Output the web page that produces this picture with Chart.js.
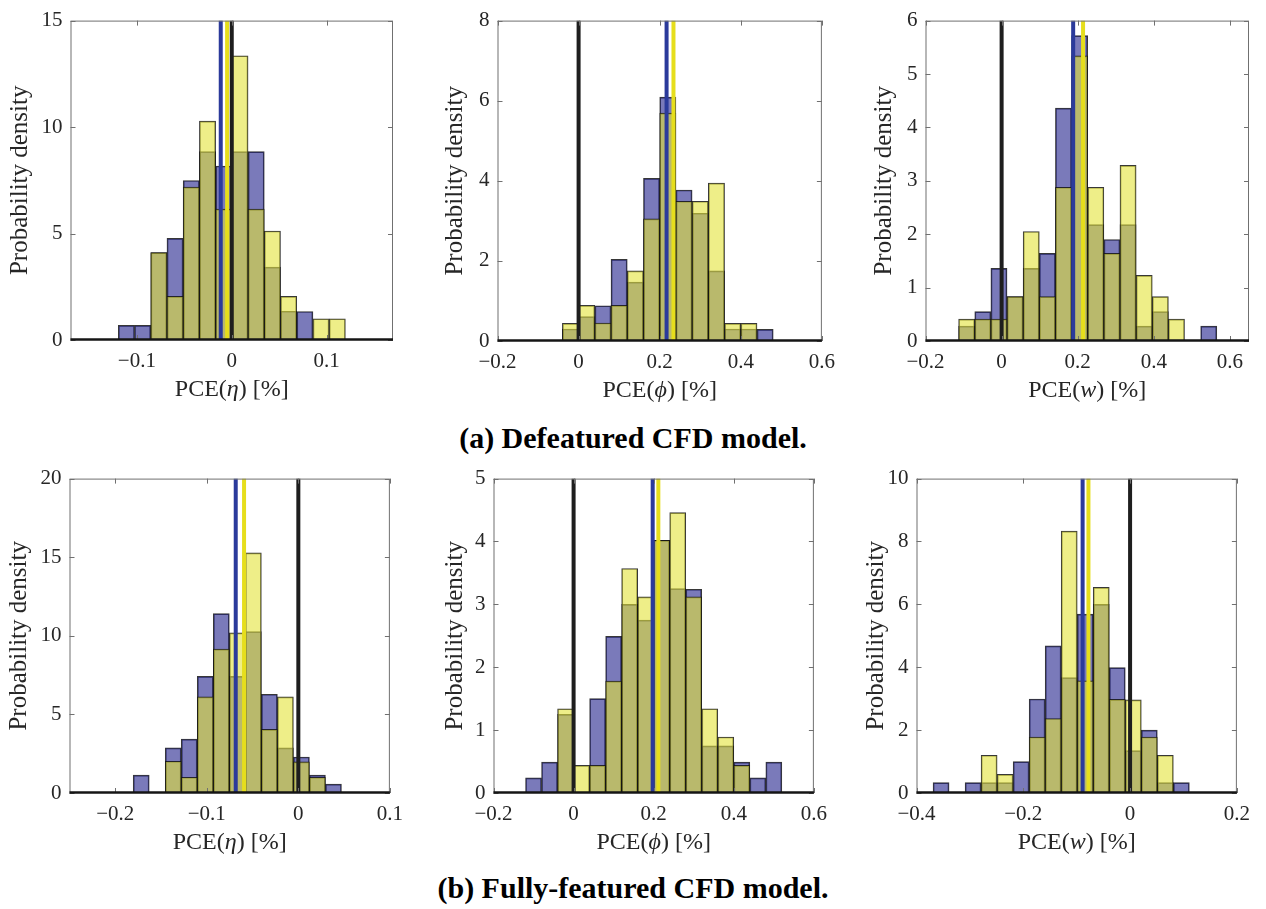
<!DOCTYPE html>
<html>
<head>
<meta charset="utf-8">
<script src="https://cdn.jsdelivr.net/npm/chart.js@4.4.1/dist/chart.umd.min.js"></script>
<style>
body { margin:0; background:#fff; width:1266px; height:909px; overflow:hidden; position:relative; }
canvas { position:absolute; }
.caption { position:absolute; left:0; width:1266px; height:34px; line-height:34px; text-align:center;
  font-family:"Liberation Serif", serif; font-weight:bold; font-size:30px; color:#000; }
</style>
</head>
<body>
<canvas id="eta_a"></canvas>
<canvas id="phi_a"></canvas>
<canvas id="w_a"></canvas>
<canvas id="eta_b"></canvas>
<canvas id="phi_b"></canvas>
<canvas id="w_b"></canvas>
<div class="caption" style="top:421px">(a) Defeatured CFD model.</div>
<div class="caption" style="top:871px">(b) Fully-featured CFD model.</div>
<script>
'use strict';

// ---- (a) defeatured, PCE(eta) ----
var eta_a_bins   = [-0.11105, -0.09395, -0.07685, -0.05975, -0.04265, -0.02555, -0.00845, 0.00865, 0.02575, 0.04285, 0.05995, 0.07705, 0.09415, 0.11125];
var eta_a_blue   = [0.69, 0.69, 4.1, 4.77, 7.49, 8.85, 8.17, 8.85, 8.85, 3.42, 1.35, 1.34, 0, 0];
var eta_a_yellow = [0, 0, 4.1, 2.05, 7.18, 10.28, 6.15, 13.35, 6.15, 5.12, 2.05, 0, 1.0, 1.0];
var eta_a_lines  = [-0.0116, -0.0049, 0];   // blue, yellow, black
var eta_a_xlim   = [-0.17, 0.17];
var eta_a_xticks = [-0.1, 0, 0.1];
var eta_a_yticks = [0, 5, 10, 15];

// ---- (a) defeatured, PCE(phi) ----
var phi_a_bins   = [-0.02, 0.02, 0.06, 0.10, 0.14, 0.18, 0.22, 0.26, 0.30, 0.34, 0.38, 0.42, 0.46];
var phi_a_blue   = [0.30, 0.61, 0.88, 2.04, 1.47, 4.06, 6.09, 3.77, 3.19, 1.75, 0.30, 0.30, 0.29];
var phi_a_yellow = [0.44, 0.89, 0.45, 0.89, 1.75, 3.05, 5.69, 3.49, 3.49, 3.94, 0.44, 0.44, 0];
var phi_a_lines  = [0.217, 0.234, 0];
var phi_a_xlim   = [-0.2, 0.6];
var phi_a_xticks = [-0.2, 0, 0.2, 0.4, 0.6];
var phi_a_yticks = [0, 2, 4, 6, 8];

// ---- (a) defeatured, PCE(w) ----
var w_a_bins   = [-0.0918, -0.0494, -0.0070, 0.0354, 0.0778, 0.1202, 0.1626, 0.2050, 0.2474, 0.2898, 0.3322, 0.3746, 0.4170, 0.4594, 0.5018, 0.5442];
var w_a_blue   = [0.28, 0.55, 1.36, 0.83, 1.36, 1.64, 4.36, 5.72, 2.18, 1.90, 2.18, 0.28, 0.55, 0, 0, 0.28];
var w_a_yellow = [0.41, 0.41, 0.41, 0.83, 2.05, 0.83, 2.88, 5.34, 2.88, 1.64, 3.29, 1.23, 0.83, 0.41, 0, 0];
var w_a_lines  = [0.188, 0.214, 0];
var w_a_xlim   = [-0.2, 0.65];
var w_a_xticks = [-0.2, 0, 0.2, 0.4, 0.6];
var w_a_yticks = [0, 1, 2, 3, 4, 5, 6];

// ---- (b) fully-featured, PCE(eta) ----
var eta_b_bins   = [-0.17165, -0.15415, -0.13665, -0.11915, -0.10165, -0.08415, -0.06665, -0.04915, -0.03165, -0.01415, 0.00335, 0.02085, 0.03835];
var eta_b_blue   = [1.14, 0, 2.87, 3.43, 7.42, 11.41, 7.42, 10.27, 6.28, 2.87, 2.29, 1.14, 0.56];
var eta_b_yellow = [0, 0, 2.02, 1.0, 6.11, 9.15, 10.19, 15.28, 4.05, 6.11, 1.98, 1.0, 0];
var eta_b_lines  = [-0.0684, -0.0593, 0];
var eta_b_xlim   = [-0.25, 0.1];
var eta_b_xticks = [-0.2, -0.1, 0, 0.1];
var eta_b_yticks = [0, 5, 10, 15, 20];

// ---- (b) fully-featured, PCE(phi) ----
var phi_b_bins   = [-0.10, -0.06, -0.02, 0.02, 0.06, 0.10, 0.14, 0.18, 0.22, 0.26, 0.30, 0.34, 0.38, 0.42, 0.46, 0.50];
var phi_b_blue   = [0.24, 0.49, 1.25, 0, 1.5, 2.49, 3.0, 2.75, 4.02, 3.25, 3.24, 0.75, 0.75, 0.49, 0.24, 0.49];
var phi_b_yellow = [0, 0, 1.34, 0.44, 0.44, 1.78, 3.57, 3.12, 4.02, 4.46, 3.12, 1.34, 0.89, 0.44, 0, 0];
var phi_b_lines  = [0.1975, 0.2116, 0];
var phi_b_xlim   = [-0.2, 0.6];
var phi_b_xticks = [-0.2, 0, 0.2, 0.4, 0.6];
var phi_b_yticks = [0, 1, 2, 3, 4, 5];

// ---- (b) fully-featured, PCE(w) ----
var w_b_bins   = [-0.354, -0.324, -0.294, -0.264, -0.234, -0.204, -0.174, -0.144, -0.114, -0.084, -0.054, -0.024, 0.006, 0.036, 0.066, 0.096];
var w_b_blue   = [0.33, 0, 0.33, 0.33, 0.33, 1.0, 2.99, 4.68, 3.67, 5.69, 6.0, 3.99, 1.35, 2.0, 0.33, 0.33];
var w_b_yellow = [0, 0, 0, 1.2, 0.59, 0, 1.78, 2.37, 8.33, 3.57, 6.54, 2.98, 2.96, 1.78, 1.2, 0];
var w_b_lines  = [-0.0889, -0.078, 0];
var w_b_xlim   = [-0.4, 0.2];
var w_b_xticks = [-0.4, -0.2, 0, 0.2];
var w_b_yticks = [0, 2, 4, 6, 8, 10];

(function(){

	var BLUE_FILL = 'rgba(33,33,140,0.6)';
	var YELLOW_FILL = 'rgba(227,227,57,0.6)';
	var EDGE = 'rgba(20,20,20,0.85)';
	var LINE_COLORS = ['#2b3a9b', '#e6de1c', '#1e1e1e'];
	var TEXT = '#262626';
	var SERIF = '"Liberation Serif", "Times New Roman", serif';

	// fixed pieces of the layout (plot rectangle + y title centre)
	var PAD_TOP = 15, PAD_RIGHT = 22, X_BOX = 64;
	var Y_TITLE = 25, X_TITLE = 24;

	var fmt = function(v){
		var s = String(Math.round(v * 100) / 100);
		return s.replace('-', '\u2212');
	};

	// axes box with inward ticks, MATLAB-like
	var frame_plugin = {
		id: 'frame',
		afterDatasetsDraw: function(chart){
			var a = chart.chartArea, ctx = chart.ctx;
			var xs = chart.scales.x, ys = chart.scales.y;
			ctx.save();
			ctx.strokeStyle = '#707070';
			ctx.lineWidth = 1;
			ctx.strokeRect(a.left + 0.5, a.top + 0.5, a.right - a.left - 1, a.bottom - a.top - 1);
			ctx.beginPath();
			xs.ticks.forEach(function(t){
				var px = Math.round(xs.getPixelForValue(t.value)) + 0.5;
				ctx.moveTo(px, a.top); ctx.lineTo(px, a.top + 5);
				ctx.moveTo(px, a.bottom); ctx.lineTo(px, a.bottom - 5);
			});
			ys.ticks.forEach(function(t){
				var py = Math.round(ys.getPixelForValue(t.value)) + 0.5;
				ctx.moveTo(a.left, py); ctx.lineTo(a.left + 5, py);
				ctx.moveTo(a.right, py); ctx.lineTo(a.right - 5, py);
			});
			ctx.stroke();
			// heavy baseline
			ctx.strokeStyle = '#151515';
			ctx.lineWidth = 2.5;
			ctx.beginPath();
			ctx.moveTo(a.left, a.bottom - 0.5);
			ctx.lineTo(a.right, a.bottom - 0.5);
			ctx.stroke();
			ctx.restore();
		}
	};

	// x title with an italic symbol inside, e.g. PCE(eta) [%]
	var xtitle_plugin = {
		id: 'xtitle',
		afterDraw: function(chart, args, opts){
			var ctx = chart.ctx, a = chart.chartArea;
			var font = function(p){ return (p[1] ? 'italic ' : '') + X_TITLE + 'px ' + SERIF; };
			ctx.save();
			ctx.fillStyle = TEXT;
			ctx.textBaseline = 'middle';
			ctx.textAlign = 'left';
			var widths = opts.parts.map(function(p){ ctx.font = font(p); return ctx.measureText(p[0]).width; });
			var total = widths.reduce(function(s, v){ return s + v; }, 0);
			var x = (a.left + a.right) / 2 - total / 2;
			var y = a.bottom + opts.offset;
			opts.parts.forEach(function(p, i){
				ctx.font = font(p);
				ctx.fillText(p[0], x, y);
				x += widths[i];
			});
			ctx.restore();
		}
	};

	var to_points = function(bins, vals){
		var out = [];
		bins.forEach(function(b, i){ if (vals[i] > 0) out.push({x: b, y: vals[i]}); });
		return out;
	};

	var hist_chart = function(id, d, box, parts){
		var ymax = d.yticks[d.yticks.length - 1];
		var left = box.tx - Y_TITLE / 2;
		var top = box.T - PAD_TOP;
		var W = box.L - left;
		var canvas = document.getElementById(id);
		canvas.width = box.R + PAD_RIGHT - left;
		canvas.height = box.B + X_BOX - top;
		canvas.style.left = left + 'px';
		canvas.style.top = top + 'px';

		var datasets = [];
		d.lines.forEach(function(v, i){
			datasets.push({
				type: 'line',
				data: [{x: v, y: 0}, {x: v, y: ymax}],
				borderColor: LINE_COLORS[i],
				borderWidth: 4,
				pointRadius: 0,
				order: 0
			});
		});
		datasets.push({
			type: 'bar', data: to_points(d.bins, d.yellow),
			backgroundColor: YELLOW_FILL, borderColor: EDGE, borderWidth: 1,
			grouped: false, barPercentage: 1, categoryPercentage: 1, order: 1
		});
		datasets.push({
			type: 'bar', data: to_points(d.bins, d.blue),
			backgroundColor: BLUE_FILL, borderColor: EDGE, borderWidth: 1,
			grouped: false, barPercentage: 1, categoryPercentage: 1, order: 2
		});

		new Chart(canvas.getContext('2d'), {
			type: 'bar',
			data: { datasets: datasets },
			plugins: [frame_plugin, xtitle_plugin],
			options: {
				responsive: false,
				animation: false,
				devicePixelRatio: 1,
				layout: { padding: { top: PAD_TOP, right: PAD_RIGHT, left: 0, bottom: 0 } },
				plugins: {
					legend: { display: false },
					tooltip: { enabled: false },
					xtitle: { parts: parts, offset: 50 }
				},
				scales: {
					x: {
						type: 'linear',
						offset: false,
						min: d.xlim[0], max: d.xlim[1],
						grid: { display: false, drawTicks: false },
						border: { display: false },
						afterBuildTicks: function(s){ s.ticks = d.xticks.map(function(v){ return {value: v}; }); },
						afterFit: function(s){ s.height = X_BOX; },
						ticks: { callback: fmt, padding: 9, maxRotation: 0, autoSkip: false,
							color: TEXT, font: { family: SERIF, size: 21 } }
					},
					y: {
						min: 0, max: ymax,
						grid: { display: false, drawTicks: false },
						border: { display: false },
						afterBuildTicks: function(s){ s.ticks = d.yticks.map(function(v){ return {value: v}; }); },
						afterFit: function(s){ s.width = W; },
						ticks: { callback: fmt, padding: 8, autoSkip: false,
							color: TEXT, font: { family: SERIF, size: 21 } },
						title: { display: true, text: 'Probability density', color: TEXT,
							padding: { top: 0, bottom: 0 },
							font: { family: SERIF, size: Y_TITLE, lineHeight: 1 } }
					}
				}
			}
		});
	};

	var ETA = [['PCE(', false], ['\u03b7', true], [') [%]', false]];
	var PHI = [['PCE(', false], ['\u03d5', true], [') [%]', false]];
	var WW  = [['PCE(', false], ['w', true], [') [%]', false]];

	hist_chart('eta_a', {bins: eta_a_bins, blue: eta_a_blue, yellow: eta_a_yellow, lines: eta_a_lines,
		xlim: eta_a_xlim, xticks: eta_a_xticks, yticks: eta_a_yticks},
		{L: 70, T: 15, R: 393, B: 340, tx: 20}, ETA);
	hist_chart('phi_a', {bins: phi_a_bins, blue: phi_a_blue, yellow: phi_a_yellow, lines: phi_a_lines,
		xlim: phi_a_xlim, xticks: phi_a_xticks, yticks: phi_a_yticks},
		{L: 497, T: 15, R: 822, B: 341, tx: 455}, PHI);
	hist_chart('w_a', {bins: w_a_bins, blue: w_a_blue, yellow: w_a_yellow, lines: w_a_lines,
		xlim: w_a_xlim, xticks: w_a_xticks, yticks: w_a_yticks},
		{L: 925, T: 15, R: 1249, B: 341, tx: 884}, WW);
	hist_chart('eta_b', {bins: eta_b_bins, blue: eta_b_blue, yellow: eta_b_yellow, lines: eta_b_lines,
		xlim: eta_b_xlim, xticks: eta_b_xticks, yticks: eta_b_yticks},
		{L: 69, T: 473, R: 390, B: 793, tx: 19}, ETA);
	hist_chart('phi_b', {bins: phi_b_bins, blue: phi_b_blue, yellow: phi_b_yellow, lines: phi_b_lines,
		xlim: phi_b_xlim, xticks: phi_b_xticks, yticks: phi_b_yticks},
		{L: 493, T: 473, R: 814, B: 793, tx: 455}, PHI);
	hist_chart('w_b', {bins: w_b_bins, blue: w_b_blue, yellow: w_b_yellow, lines: w_b_lines,
		xlim: w_b_xlim, xticks: w_b_xticks, yticks: w_b_yticks},
		{L: 916, T: 473, R: 1237, B: 793, tx: 876}, WW);

})();
</script>
</body>
</html>
